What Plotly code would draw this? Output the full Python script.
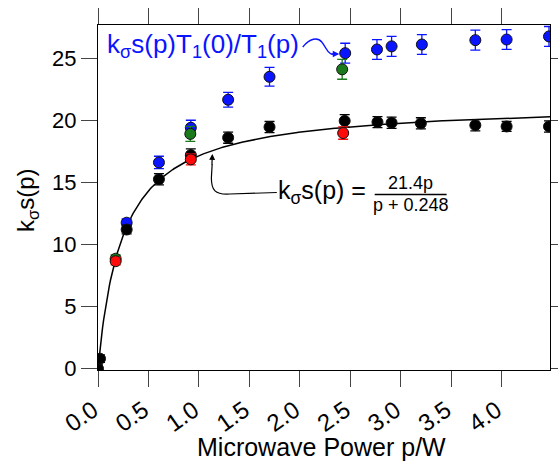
import numpy as np
import plotly.graph_objects as go

# ---- data ----
black_p = [0.0, 0.02, 0.284, 0.604, 0.92, 1.29, 1.70, 2.445, 2.77, 2.91, 3.20, 3.74, 4.05, 4.47]
black_y = [0.0, 0.8, 11.2, 15.25, 17.2, 18.6, 19.45, 19.95, 19.85, 19.8, 19.75, 19.6, 19.5, 19.5]
black_e = [0.3, 0.3, 0.35, 0.45, 0.5, 0.45, 0.45, 0.5, 0.45, 0.45, 0.45, 0.45, 0.4, 0.45]

blue_p = [0.284, 0.604, 0.92, 1.29, 1.70, 2.45, 2.765, 2.91, 3.21, 3.74, 4.05, 4.47]
blue_y = [11.75, 16.6, 19.4, 21.65, 23.5, 25.4, 25.7, 25.95, 26.1, 26.45, 26.5, 26.75]
blue_e = [0.3, 0.5, 0.6, 0.6, 0.75, 0.8, 0.8, 0.8, 0.8, 0.8, 0.8, 0.8]

green_p = [0.175, 0.915, 2.42]
green_y = [8.85, 18.9, 24.1]
green_e = [0.3, 0.6, 0.8]

red_p = [0.175, 0.92, 2.43]
red_y = [8.65, 16.85, 18.97]
red_e = [0.3, 0.45, 0.5]

fit_a = 21.4
fit_b = 0.248

x_ticks = [0.0, 0.5, 1.0, 1.5, 2.0, 2.5, 3.0, 3.5, 4.0]
x_labels = ["0.0", "0.5", "1.0", "1.5", "2.0", "2.5", "3.0", "3.5", "4.0"]
y_ticks = [0, 5, 10, 15, 20, 25]

X_RANGE = [0, 4.48]
Y_RANGE = [-0.11, 27.67]

W, H = 558, 465
L, R, T, B = 98, 7.5, 25, 95
FONT = "Arial, Liberation Sans, sans-serif"

BLUE = "#0a14ff"
GREEN = "#1b7a1b"
RED = "#ff0a0a"

def px(xp):
    return (xp - L) / (W - L - R)

def py(yp):
    return 1 - (yp - T) / (H - T - B)

def P(x, y):
    return f"{px(x)},{py(y)}"

fig = go.Figure()

# fit curve
pc = np.linspace(0, X_RANGE[1], 400)
fig.add_trace(go.Scatter(x=pc, y=fit_a * pc / (pc + fit_b), mode="lines",
                         line=dict(color="black", width=1.5), hoverinfo="skip"))

def pts(xs, ys, es, col):
    fig.add_trace(go.Scatter(
        x=xs, y=ys, mode="markers",
        error_y=dict(type="data", array=es, color=col, thickness=1.3, width=5),
        marker=dict(size=11, color=col, line=dict(color="#111111", width=1)),
    ))

pts(blue_p, blue_y, blue_e, BLUE)
pts(green_p, green_y, green_e, GREEN)
pts(black_p, black_y, black_e, "black")
pts(red_p, red_y, red_e, RED)

ann = []
# blue label
ann.append(dict(xref="paper", yref="paper", x=px(105), y=py(45), xanchor="left", yanchor="middle",
                text="k<sub>σ</sub>s(p)T<sub>1</sub>(0)/T<sub>1</sub>(p)", showarrow=False,
                font=dict(family=FONT, size=26, color=BLUE)))
# blue arrow head
ann.append(dict(xref="paper", yref="paper", x=px(339.5), y=py(54), ax=-9, ay=0, text="",
                showarrow=True, arrowhead=2, arrowsize=1, arrowwidth=1.3, arrowcolor=BLUE))
# equation
ann.append(dict(xref="paper", yref="paper", x=px(368), y=py(192), xanchor="right", yanchor="middle",
                text="k<sub>σ</sub>s(p) =", showarrow=False,
                font=dict(family=FONT, size=25, color="black")))
ann.append(dict(xref="paper", yref="paper", x=px(411), y=py(183), xanchor="center", yanchor="middle",
                text="21.4p", showarrow=False, font=dict(family=FONT, size=18, color="black")))
ann.append(dict(xref="paper", yref="paper", x=px(411), y=py(205), xanchor="center", yanchor="middle",
                text="p + 0.248", showarrow=False, font=dict(family=FONT, size=18, color="black")))
# equation arrow head
ann.append(dict(xref="paper", yref="paper", x=px(212.5), y=py(154), ax=-0.5, ay=12, text="",
                showarrow=True, arrowhead=2, arrowsize=1, arrowwidth=1.2, arrowcolor="black"))
# axis titles
ann.append(dict(xref="paper", yref="paper", x=px(322), y=py(447), xanchor="center", yanchor="middle",
                text="Microwave Power p/W", showarrow=False, font=dict(family=FONT, size=25, color="black")))
ann.append(dict(xref="paper", yref="paper", x=px(27), y=py(200), xanchor="center", yanchor="middle",
                text="k<sub>σ</sub>s(p)", textangle=-90, showarrow=False,
                font=dict(family=FONT, size=24, color="black")))

shapes = []
# squiggle from blue label to point
shapes.append(dict(type="path", xref="paper", yref="paper",
                   path=f"M{P(303,47)} C{P(310,38)} {P(318,37)} {P(322,42)} C{P(326,47)} {P(327,51)} {P(330,53)} C{P(332,55)} {P(334,54)} {P(332,54)}",
                   line=dict(color=BLUE, width=1.3)))
# equation leader line
shapes.append(dict(type="path", xref="paper", yref="paper",
                   path=f"M{P(277,192.5)} L{P(230,194)} C{P(215,195)} {P(211.5,190)} {P(211.5,178)} L{P(212.3,164)}",
                   line=dict(color="black", width=1.2)))
# fraction bar
shapes.append(dict(type="line", xref="paper", yref="paper", x0=px(375), x1=px(447),
                   y0=py(194.5), y1=py(194.5), line=dict(color="black", width=1.5)))

axis_common = dict(showline=True, linecolor="black", linewidth=1, mirror="ticks",
                   ticks="outside", ticklen=16, tickwidth=1, tickcolor="#444444",
                   showgrid=False, zeroline=False)

fig.update_layout(
    width=W, height=H,
    margin=dict(l=L, r=R, t=T, b=B, autoexpand=False),
    paper_bgcolor="white", plot_bgcolor="white",
    showlegend=False,
    xaxis=dict(range=X_RANGE, tickvals=x_ticks, ticktext=x_labels, tickangle=-35,
               ticklabelshift=-5,
               tickfont=dict(family=FONT, size=24, color="black"), **axis_common),
    yaxis=dict(range=Y_RANGE, tickvals=y_ticks,
               tickfont=dict(family=FONT, size=22, color="black"), **axis_common),
    annotations=ann, shapes=shapes,
)

fig.write_html("out.html", config={"displayModeBar": False},
               post_script="document.body.style.margin='0';document.body.style.overflow='hidden';")
